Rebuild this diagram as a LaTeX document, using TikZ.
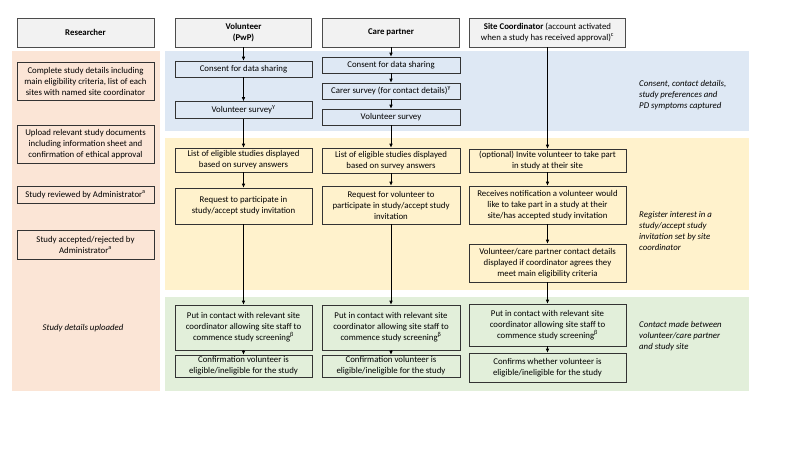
\documentclass[tikz,border=0pt]{standalone}
\usepackage{fontspec}
\setmainfont{Carlito}
\usetikzlibrary{arrows.meta}
\definecolor{peach}{HTML}{FBE5D6}
\definecolor{bandblue}{HTML}{DEE8F4}
\definecolor{bandyellow}{HTML}{FFF2CC}
\definecolor{bandgreen}{HTML}{E2EFDA}
\definecolor{hdrgray}{HTML}{F2F2F2}
\begin{document}
\begin{tikzpicture}[x=1pt,y=-1pt,
  every node/.style={font=\fontsize{8.8}{11}\selectfont, align=center, inner sep=1pt},
  hdr/.style={draw=black!70, line width=0.8pt, fill=hdrgray, minimum height=29pt},
  box/.style={draw=black!80, line width=0.6pt},
  lbl/.style={align=left, anchor=west, font=\fontsize{8.8}{11}\selectfont\itshape},
  arr/.style={draw=black, line width=0.6pt, -{Latex[length=4pt,width=3.5pt]}}
]
\useasboundingbox (0,0) rectangle (800,450);
% bands
\fill[peach] (12,51) rectangle (160,391);
\fill[bandblue] (165,51) rectangle (749,131);
\fill[bandyellow] (165,138) rectangle (749,290);
\fill[bandgreen] (165,297) rectangle (749,391);

% headers
\node[hdr, minimum width=137pt] (rh) at (85.5,32.5) {\textbf{Researcher}};
\node[hdr, minimum width=136pt] (vh) at (243.5,32.5) {\textbf{Volunteer}\\\textbf{(PwP)}};
\node[hdr, minimum width=137pt] (ch) at (391,32.5) {\textbf{Care partner}};
\node[hdr, minimum width=156pt] (sh) at (547.5,32.5) {\textbf{Site Coordinator} (account activated\\when a study has received approval)\textsuperscript{c}};

% researcher column
\node[box, fill=peach, minimum width=137pt, minimum height=38pt] (r1) at (85.5,81) {Complete study details including\\main eligibility criteria, list of each\\sites with named site coordinator};
\node[box, fill=peach, minimum width=137pt, minimum height=38pt] (r2) at (85.5,144) {Upload relevant study documents\\including information sheet and\\confirmation of ethical approval};
\node[box, fill=peach, minimum width=137pt, minimum height=17pt] (r3) at (85.5,194.5) {Study reviewed by Administrator\textsuperscript{a}};
\node[box, fill=peach, minimum width=137pt, minimum height=29pt] (r4) at (85.5,244.5) {Study accepted/rejected by\\Administrator\textsuperscript{a}};
\node[font=\fontsize{8.8}{11}\selectfont\itshape] (rl) at (83,328) {Study details uploaded};

% volunteer column
\node[box, fill=bandblue, minimum width=137pt, minimum height=16pt] (v1) at (243.5,69) {Consent for data sharing};
\node[box, fill=bandblue, minimum width=137pt, minimum height=17pt] (v2) at (243.5,110) {Volunteer survey\textsuperscript{γ}};
\node[box, fill=bandyellow, minimum width=137pt, minimum height=24pt] (v3) at (243.5,160) {List of eligible studies displayed\\based on survey answers};
\node[box, fill=bandyellow, minimum width=137pt, minimum height=36pt] (v4) at (243.5,206) {Request to participate in\\study/accept study invitation};
\node[box, fill=bandgreen, minimum width=137pt, minimum height=45pt] (v5) at (243.5,327.5) {Put in contact with relevant site\\coordinator allowing site staff to\\commence study screening\textsuperscript{β}};
\node[box, fill=bandgreen, minimum width=137pt, minimum height=22pt] (v6) at (243.5,366) {Confirmation volunteer is\\eligible/ineligible for the study};

% care partner column
\node[box, fill=bandblue, minimum width=138pt, minimum height=16pt] (c1) at (391,65) {Consent for data sharing};
\node[box, fill=bandblue, minimum width=138pt, minimum height=16pt] (c2) at (391,91) {Carer survey (for contact details)\textsuperscript{γ}};
\node[box, fill=bandblue, minimum width=138pt, minimum height=16pt] (c3) at (391,117) {Volunteer survey};
\node[box, fill=bandyellow, minimum width=138pt, minimum height=25pt] (c4) at (391,160.5) {List of eligible studies displayed\\based on survey answers};
\node[box, fill=bandyellow, minimum width=138pt, minimum height=38pt] (c5) at (391,205) {Request for volunteer to\\participate in study/accept study\\invitation};
\node[box, fill=bandgreen, minimum width=138pt, minimum height=45pt] (c6) at (391,327.5) {Put in contact with relevant site\\coordinator allowing site staff to\\commence study screening\textsuperscript{β}};
\node[box, fill=bandgreen, minimum width=138pt, minimum height=22pt] (c7) at (391,366) {Confirmation volunteer is\\eligible/ineligible for the study};

% site coordinator column
\node[box, fill=bandyellow, minimum width=157pt, minimum height=23pt] (s1) at (547.5,160.5) {(optional) Invite volunteer to take part\\in study at their site};
\node[box, fill=bandyellow, minimum width=157pt, minimum height=38pt] (s2) at (547.5,205) {Receives notification a volunteer would\\like to take part in a study at their\\site/has accepted study invitation};
\node[box, fill=bandyellow, minimum width=157pt, minimum height=38pt] (s3) at (547.5,263) {Volunteer/care partner contact details\\displayed if coordinator agrees they\\meet main eligibility criteria};
\node[box, fill=bandgreen, minimum width=157pt, minimum height=42pt] (s4) at (547.5,325) {Put in contact with relevant site\\coordinator allowing site staff to\\commence study screening\textsuperscript{β}};
\node[box, fill=bandgreen, minimum width=157pt, minimum height=29pt] (s5) at (547.5,367.5) {Confirms whether volunteer is\\eligible/ineligible for the study};

% right labels
\node[lbl] (l1) at (638,95) {Consent, contact details,\\study preferences and\\PD symptoms captured};
\node[lbl] (l2) at (638,231) {Register interest in a\\study/accept study\\invitation set by site\\coordinator};
\node[lbl] (l3) at (638,336) {Contact made between\\volunteer/care partner\\and study site};

% arrows
\draw[arr] (vh) -- (v1);
\draw[arr] (v1) -- (v2);
\draw[arr] (v2) -- (v3);
\draw[arr] (v3) -- (v4);
\draw[arr] (v4) -- (v5);
\draw[arr] (v5) -- (v6);
\draw[arr] (ch) -- (c1);
\draw[arr] (c1) -- (c2);
\draw[arr] (c2) -- (c3);
\draw[arr] (c3) -- (c4);
\draw[arr] (c4) -- (c5);
\draw[arr] (c5) -- (c6);
\draw[arr] (c6) -- (c7);
\draw[arr] (sh) -- (s1);
\draw[arr] (s1) -- (s2);
\draw[arr] (s2) -- (s3);
\draw[arr] (s3) -- (s4);
\draw[arr] (s4) -- (s5);
\end{tikzpicture}
\end{document}
